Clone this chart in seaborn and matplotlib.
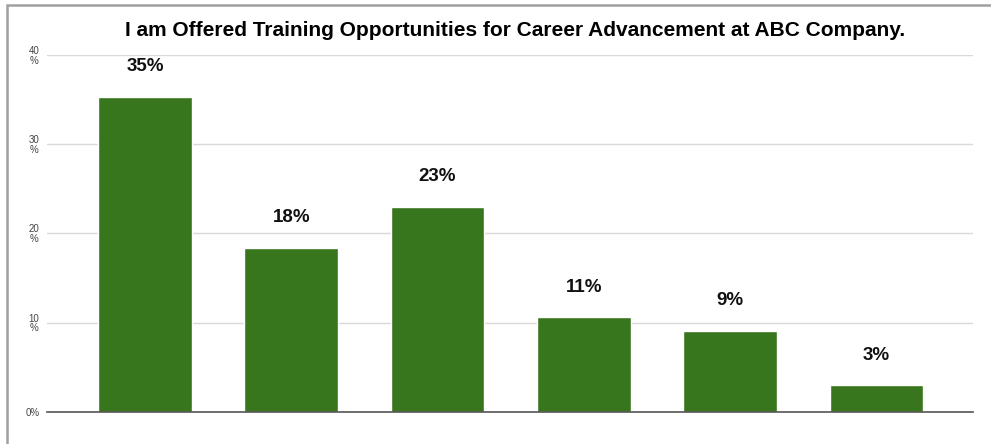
import matplotlib
matplotlib.use("Agg")
import matplotlib.pyplot as plt
import seaborn as sns
import pandas as pd
from matplotlib.patches import Rectangle

categories = ["Strongly Agree", "Agree", "Somewhat Agree", "Somewhat Disagree", "Disagree", "Strongly Disagree"]
values = [35.3, 18.4, 23.0, 10.6, 9.1, 3.0]
value_labels = ["35%", "18%", "23%", "11%", "9%", "3%"]
yticks = [0, 10, 20, 30, 40]
ytick_labels = ["0%", "10\n%", "20\n%", "30\n%", "40\n%"]
title = "I am Offered Training Opportunities for Career Advancement at ABC Company."

sns.set_style("white")
plt.rcParams['font.family'] = ['Liberation Sans', 'DejaVu Sans']

df = pd.DataFrame({"category": categories, "value": values})

fig = plt.figure(figsize=(9.91, 4.44), dpi=100)
ax = fig.add_axes([47/991, 1-412/444, (973-47)/991, (412-55)/444])

sns.barplot(data=df, x="category", y="value", color="#38761d", width=0.64,
            saturation=1, ax=ax, zorder=3)

ax.set_ylim(0, 40)
ax.set_xlim(-0.67, 5.66)
ax.set_yticks(yticks)
ax.set_yticklabels(ytick_labels, fontsize=7, color="#444444", linespacing=0.95)
for t in ax.get_yticklabels():
    t.set_multialignment("center")
ax.tick_params(axis="y", length=0, pad=5.5)
ax.set_xticks([])
ax.set_xlabel("")
ax.set_ylabel("")
ax.grid(axis="y", color="#d9d9d9", linewidth=1, zorder=0)
for s in ["top", "right", "left"]:
    ax.spines[s].set_visible(False)
ax.spines["bottom"].set_color("#555555")
ax.spines["bottom"].set_linewidth(1.2)
ax.spines["bottom"].set_zorder(4)

for i, (v, lab) in enumerate(zip(values, value_labels)):
    ax.annotate(lab, (i, v), xytext=(0, 30), textcoords="offset pixels",
                ha="center", va="center", fontsize=13.5, fontweight="bold", color="#111111")

fig.text(515/991, 1-30/444, title, ha="center", va="center", fontsize=15,
         fontweight="bold", color="#000000")

fig.patches.append(Rectangle((7/991, -0.1), 1.2, 1.1 - 5/444, transform=fig.transFigure,
                             fill=False, edgecolor="#a0a0a0", linewidth=1.8, figure=fig))

fig.savefig("out.png", dpi=100)
